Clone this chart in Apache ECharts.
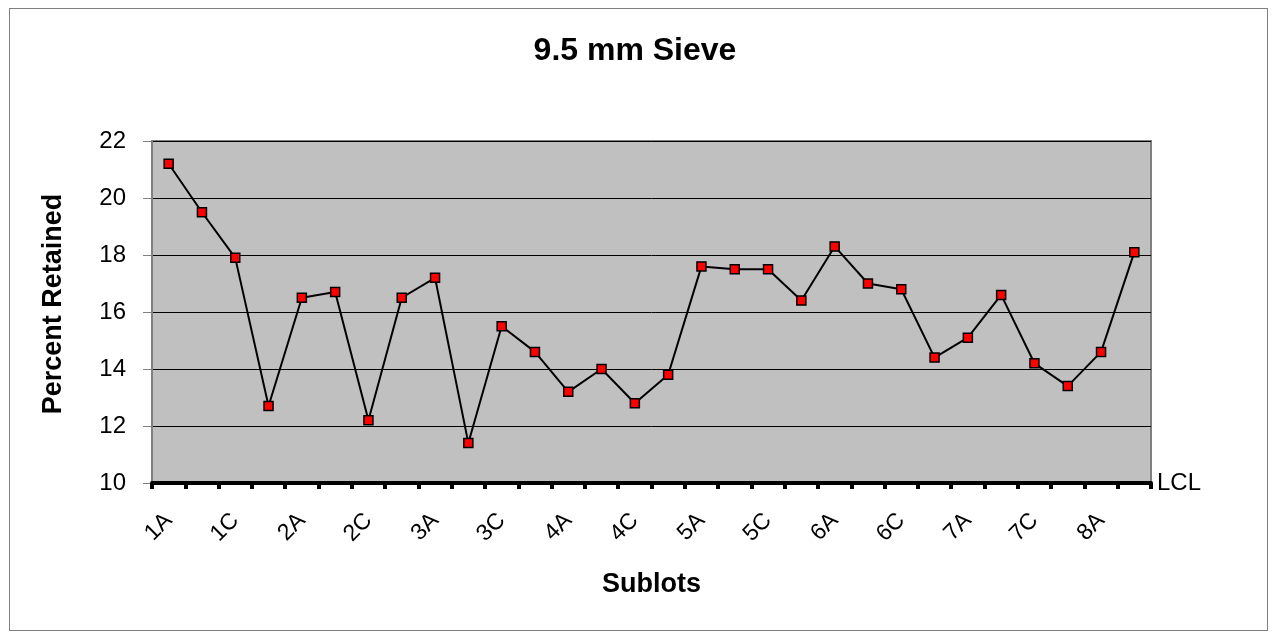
<!DOCTYPE html>
<html>
<head>
<meta charset="utf-8">
<script src="https://cdn.jsdelivr.net/npm/echarts@6/dist/echarts.min.js"></script>
<style>
  html, body { margin: 0; padding: 0; background: #fff; }
  #frame { position: absolute; left: 9px; top: 8px; width: 1257px; height: 621px; border: 1px solid #808080; }
  #chart { width: 1275px; height: 634px; }
</style>
</head>
<body>
<div id="frame"></div>
<div id="chart"></div>
<script>
// sublot categories
var sublots = ['1A', '1B', '1C', '1D', '2A', '2B', '2C', '2D', '3A', '3B',
  '3C', '3D', '4A', '4B', '4C', '4D', '5A', '5B', '5C', '5D',
  '6A', '6B', '6C', '6D', '7A', '7B', '7C', '7D', '8A', '8B'];
// percent retained on the 9.5 mm sieve
var retained = [21.2, 19.5, 17.9, 12.7, 16.5, 16.7, 12.2, 16.5, 17.2, 11.4,
  15.5, 14.6, 13.2, 14.0, 12.8, 13.8, 17.6, 17.5, 17.5, 16.4,
  18.3, 17.0, 16.8, 14.4, 15.1, 16.6, 14.2, 13.4, 14.6, 18.1];
var lcl = 10;
var yTicks = [10, 12, 14, 16, 18, 20, 22];

var myChart = echarts.init(document.getElementById('chart'));

var font = 'Liberation Sans, Arial, sans-serif';

var option = {
  animation: false,
  textStyle: { fontFamily: font, color: '#000' },
  title: {
    text: '9.5 mm Sieve',
    left: 630,
    textAlign: 'center',
    top: 30,
    textStyle: { fontSize: 32, fontWeight: 'bold', color: '#000' }
  },
  // y axis title sits a little above the plot centre
  graphic: [{
    type: 'text',
    x: 54,
    y: 304,
    rotation: Math.PI / 2,
    style: {
      text: 'Percent Retained',
      font: 'bold 27px ' + font,
      fill: '#000',
      textAlign: 'center',
      textVerticalAlign: 'middle'
    }
  }],
  grid: {
    left: 152, right: 124, top: 141, bottom: 151,
    show: true,
    backgroundColor: '#c0c0c0',
    borderColor: '#808080',
    borderWidth: 2
  },
  xAxis: {
    type: 'category',
    data: sublots,
    boundaryGap: true,
    name: 'Sublots',
    nameLocation: 'middle',
    nameGap: 88,
    nameTextStyle: { fontSize: 27, fontWeight: 'bold', color: '#000' },
    axisLine: { lineStyle: { color: '#000', width: 4 } },
    axisTick: { show: true, interval: 0, length: 6, lineStyle: { color: '#000', width: 4 } },
    axisLabel: { interval: 1, rotate: 45, fontSize: 23, color: '#000', margin: 34 },
    splitLine: { show: false }
  },
  yAxis: {
    type: 'value',
    min: yTicks[0],
    max: yTicks[yTicks.length - 1],
    interval: 2,
    axisLine: { show: true, lineStyle: { color: '#808080', width: 2 } },
    axisTick: { show: true, length: 9, lineStyle: { color: '#808080', width: 1 } },
    axisLabel: { fontSize: 24, color: '#000', margin: 26 },
    splitLine: { lineStyle: { color: '#000', width: 1 } }
  },
  series: [{
    name: 'Retained',
    type: 'line',
    data: retained,
    symbol: 'rect',
    symbolSize: 9,
    lineStyle: { color: '#000', width: 2 },
    itemStyle: { color: '#ff0000', borderColor: '#000', borderWidth: 1.5 },
    markLine: {
      silent: true,
      symbol: 'none',
      lineStyle: { color: '#000', width: 4, type: 'solid' },
      label: { position: 'end', formatter: 'LCL', fontSize: 24, color: '#000', distance: 6 },
      data: [{ yAxis: lcl }]
    }
  }]
};

myChart.setOption(option);
</script>
</body>
</html>
